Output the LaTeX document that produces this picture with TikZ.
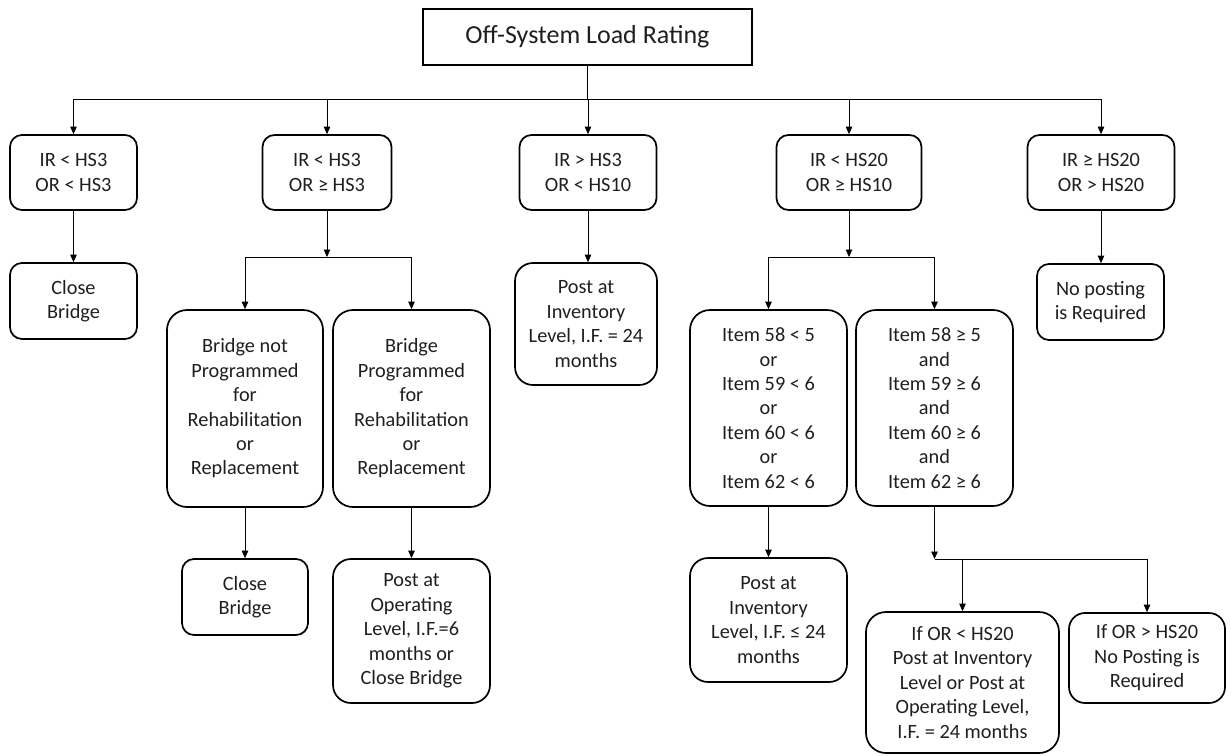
\documentclass[tikz,border=0pt]{standalone}
\usepackage{fontspec}
\setmainfont{Carlito}
\usetikzlibrary{arrows.meta}
\begin{document}
\begin{tikzpicture}[x=1pt,y=-1pt,
  box/.style={draw=black,line width=1.7pt,rounded corners=#1,align=center,inner sep=0pt,
    text=black!88,font=\fontsize{20.3}{24.4}\selectfont},
  box/.default=12pt,
  title/.style={draw=black,line width=1.7pt,align=center,inner sep=0pt,
    text=black!88,font=\fontsize{26}{30}\selectfont},
  conn/.style={draw=black,line width=0.8pt,-{Triangle[length=7.5pt,width=6.5pt]}},
  line/.style={draw=black,line width=0.8pt}]
\useasboundingbox (0,0) rectangle (1231,755);

% top
\node[title,minimum width=329,minimum height=56] (top) at (587.5,37) {Off-System Load Rating};

% level 1
\node[box,minimum width=127,minimum height=75] (b1) at (73.5,172.5) {IR < HS3\\OR < HS3};
\node[box,minimum width=129,minimum height=75] (b2) at (327,172.5) {IR < HS3\\OR ≥ HS3};
\node[box,minimum width=137,minimum height=75] (b3) at (588,172.5) {IR > HS3\\OR < HS10};
\node[box,minimum width=145,minimum height=75] (b4) at (849,172.5) {IR < HS20\\OR ≥ HS10};
\node[box,minimum width=147,minimum height=75] (b5) at (1101,172.5) {IR ≥ HS20\\OR > HS20};

\draw[line] (top.south) -- ++(0,34) coordinate (bus);
\foreach \n in {b1,b2,b3,b4,b5}{
  \draw[conn] (bus) -| (\n.north);
}

% level 2
\node[box,minimum width=127,minimum height=76] (c1) at (73.5,301) {Close\\Bridge};
\draw[conn] (b1.south) -- (c1.north);

\coordinate (j2) at (327,257);
\draw[conn] (b2.south) -- (j2);
\node[box=20pt,minimum width=156,minimum height=197] (c2l) at (245,408.5)
  {Bridge not\\Programmed\\for\\Rehabilitation\\or\\Replacement};
\node[box=20pt,minimum width=157,minimum height=197] (c2r) at (411.5,408.5)
  {Bridge\\Programmed\\for\\Rehabilitation\\or\\Replacement};
\draw[conn] (j2) -| (c2l.north);
\draw[conn] (j2) -| (c2r.north);

\node[box=18pt,minimum width=142,minimum height=122] (c3) at (586,324)
  {Post at\\Inventory\\Level, I.F. = 24\\months};
\draw[conn] (b3.south) -- (c3.north -| b3.south);

\coordinate (j4) at (849,257);
\draw[conn] (b4.south) -- (j4);
\node[box=20pt,minimum width=157,minimum height=196] (c4l) at (768.5,408)
  {Item 58 < 5\\or\\Item 59 < 6\\or\\Item 60 < 6\\or\\Item 62 < 6};
\node[box=20pt,minimum width=157,minimum height=196] (c4r) at (934.5,408)
  {Item 58 ≥ 5\\and\\Item 59 ≥ 6\\and\\Item 60 ≥ 6\\and\\Item 62 ≥ 6};
\draw[conn] (j4) -| (c4l.north);
\draw[conn] (j4) -| (c4r.north);

\node[box,minimum width=127,minimum height=76] (c5) at (1100.5,302) {No posting\\is Required};
\draw[conn] (b5.south) -- (c5.north -| b5.south);

% level 3
\node[box,minimum width=126,minimum height=76] (d2l) at (245,597) {Close\\Bridge};
\draw[conn] (c2l.south) -- (d2l.north);
\node[box=18pt,minimum width=157,minimum height=144] (d2r) at (411.5,631)
  {Post at\\Operating\\Level, I.F.=6\\months or\\Close Bridge};
\draw[conn] (c2r.south) -- (d2r.north);

\node[box=18pt,minimum width=157,minimum height=124] (d4l) at (768.5,620)
  {Post at\\Inventory\\Level, I.F. ≤ 24\\months};
\draw[conn] (c4l.south) -- (d4l.north);

\coordinate (j5) at (934.5,559);
\draw[conn] (c4r.south) -- (j5);
\node[box=20pt,minimum width=193,minimum height=141] (d4a) at (962.5,682.5)
  {If OR < HS20\\Post at Inventory\\Level or Post at\\Operating Level,\\I.F. = 24 months};
\node[box=16pt,minimum width=156,minimum height=90] (d4b) at (1147,658)
  {If OR > HS20\\No Posting is\\Required};
\draw[conn] (j5) -| (d4a.north);
\draw[conn] (j5) -| (d4b.north);
\end{tikzpicture}
\end{document}
